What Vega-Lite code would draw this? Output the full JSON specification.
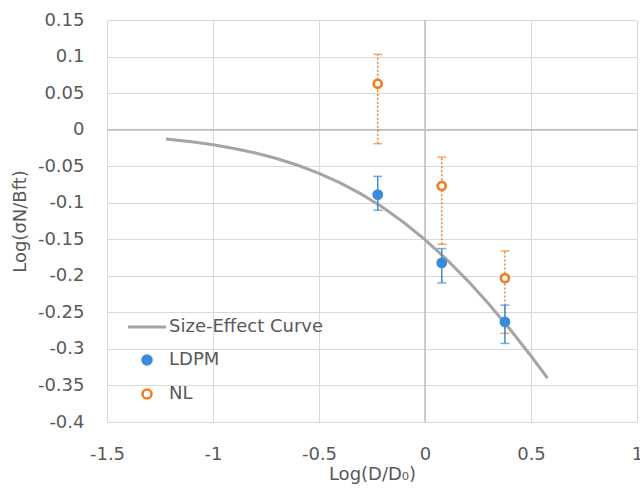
{
  "$schema": "https://vega.github.io/schema/vega-lite/v6.json",
  "autosize": {"type": "none"},
  "width": 530,
  "height": 402,
  "padding": {"left": 107, "top": 20, "right": 3, "bottom": 78},
  "background": "white",
  "config": {
    "font": "DejaVu Sans",
    "view": {"stroke": null},
    "axis": {
      "labelFont": "DejaVu Sans", "titleFont": "DejaVu Sans",
      "labelFontSize": 18, "titleFontSize": 18,
      "labelColor": "#595959", "titleColor": "#595959",
      "titleFontWeight": "normal",
      "gridColor": "#D9D9D9", "gridWidth": 1,
      "domain": false, "ticks": false, "labelOverlap": false, "labelFlush": false
    },
    "legend": {"labelFont": "DejaVu Sans", "labelFontSize": 18, "labelColor": "#595959"}
  },
  "datasets": {
    "curve": [
      {"x": -1.222, "y": -0.0127, "series": "Size-Effect Curve"},
      {"x": -1.1, "y": -0.0166, "series": "Size-Effect Curve"},
      {"x": -1.0, "y": -0.0207, "series": "Size-Effect Curve"},
      {"x": -0.9, "y": -0.0258, "series": "Size-Effect Curve"},
      {"x": -0.8, "y": -0.0319, "series": "Size-Effect Curve"},
      {"x": -0.7, "y": -0.0395, "series": "Size-Effect Curve"},
      {"x": -0.6, "y": -0.0487, "series": "Size-Effect Curve"},
      {"x": -0.5, "y": -0.0597, "series": "Size-Effect Curve"},
      {"x": -0.4, "y": -0.0728, "series": "Size-Effect Curve"},
      {"x": -0.3, "y": -0.0882, "series": "Size-Effect Curve"},
      {"x": -0.2, "y": -0.1062, "series": "Size-Effect Curve"},
      {"x": -0.1, "y": -0.127, "series": "Size-Effect Curve"},
      {"x": 0.0, "y": -0.1505, "series": "Size-Effect Curve"},
      {"x": 0.1, "y": -0.177, "series": "Size-Effect Curve"},
      {"x": 0.2, "y": -0.2062, "series": "Size-Effect Curve"},
      {"x": 0.3, "y": -0.2382, "series": "Size-Effect Curve"},
      {"x": 0.4, "y": -0.2728, "series": "Size-Effect Curve"},
      {"x": 0.5, "y": -0.3097, "series": "Size-Effect Curve"},
      {"x": 0.578, "y": -0.34, "series": "Size-Effect Curve"}
    ],
    "points": [
      {"series": "LDPM", "x": -0.223, "y": -0.0889, "lo": -0.1103, "hi": -0.0639},
      {"series": "LDPM", "x": 0.079, "y": -0.1823, "lo": -0.2097, "hi": -0.1627},
      {"series": "LDPM", "x": 0.377, "y": -0.263, "lo": -0.2925, "hi": -0.2401},
      {"series": "NL", "x": -0.223, "y": 0.0628, "lo": -0.0192, "hi": 0.1029},
      {"series": "NL", "x": 0.079, "y": -0.0771, "lo": -0.1568, "hi": -0.0375},
      {"series": "NL", "x": 0.377, "y": -0.2032, "lo": -0.2788, "hi": -0.166}
    ],
    "zero": [{"v": 0}]
  },
  "layer": [
    {
      "data": {"name": "zero"},
      "mark": {"type": "rule", "color": "#BFBFBF", "strokeWidth": 1.5},
      "encoding": {
        "x": {"field": "v", "type": "quantitative",
          "scale": {"domain": [-1.5, 1], "nice": false, "zero": false},
          "axis": {"title": "Log(D/D₀)", "tickCount": 5, "labelExpr": "'' + datum.value", "labelPadding": 23, "titlePadding": 2}}
      }
    },
    {
      "data": {"name": "zero"},
      "mark": {"type": "rule", "color": "#BFBFBF", "strokeWidth": 1.5},
      "encoding": {
        "y": {"field": "v", "type": "quantitative",
          "scale": {"domain": [-0.4, 0.15], "nice": false, "zero": false},
          "axis": {"title": "Log(σN/Bft)", "tickCount": 11, "labelExpr": "'' + datum.value", "labelPadding": 23, "titlePadding": 8}}
      }
    },
    {
      "data": {"name": "curve"},
      "mark": {"type": "line", "strokeWidth": 3},
      "encoding": {
        "x": {"field": "x", "type": "quantitative"},
        "y": {"field": "y", "type": "quantitative"},
        "stroke": {"field": "series", "type": "nominal",
          "scale": {"domain": ["Size-Effect Curve", "LDPM", "NL"], "range": ["#A5A5A5", "#3A8BD8", "#F08026"]},
          "legend": {
            "title": null, "orient": "none", "legendX": 31, "legendY": 298,
            "padding": 0, "symbolSize": 1444, "labelOffset": 13, "rowPadding": 14,
            "encode": {"symbols": {"update": {
              "shape": {"signal": "datum.value === 'Size-Effect Curve' ? 'stroke' : 'circle'"},
              "size": {"signal": "datum.value === 'Size-Effect Curve' ? 1444 : 80"},
              "strokeWidth": {"signal": "datum.value === 'Size-Effect Curve' ? 3 : 2.6"},
              "opacity": {"value": 1}
            }}}
          }}
      }
    },
    {
      "data": {"name": "points"},
      "transform": [{"filter": "datum.series === 'NL'"}],
      "mark": {"type": "rule", "color": "#F08026", "strokeWidth": 1.5, "strokeDash": [2, 2]},
      "encoding": {
        "x": {"field": "x", "type": "quantitative"},
        "y": {"field": "lo", "type": "quantitative"},
        "y2": {"field": "hi"}
      }
    },
    {
      "data": {"name": "points"},
      "transform": [{"filter": "datum.series === 'NL'"}, {"fold": ["lo", "hi"], "as": ["end", "val"]}],
      "mark": {"type": "tick", "orient": "horizontal", "color": "#F08026", "size": 9, "thickness": 1.5, "opacity": 0.7},
      "encoding": {
        "x": {"field": "x", "type": "quantitative"},
        "y": {"field": "val", "type": "quantitative"}
      }
    },
    {
      "data": {"name": "points"},
      "transform": [{"filter": "datum.series === 'LDPM'"}],
      "mark": {"type": "rule", "color": "#3A8BD8", "strokeWidth": 1.5},
      "encoding": {
        "x": {"field": "x", "type": "quantitative"},
        "y": {"field": "lo", "type": "quantitative"},
        "y2": {"field": "hi"}
      }
    },
    {
      "data": {"name": "points"},
      "transform": [{"filter": "datum.series === 'LDPM'"}, {"fold": ["lo", "hi"], "as": ["end", "val"]}],
      "mark": {"type": "tick", "orient": "horizontal", "color": "#3A8BD8", "size": 9, "thickness": 1.5},
      "encoding": {
        "x": {"field": "x", "type": "quantitative"},
        "y": {"field": "val", "type": "quantitative"}
      }
    },
    {
      "data": {"name": "points"},
      "mark": {"type": "point", "filled": true, "size": 65, "strokeWidth": 2.8, "opacity": 1},
      "encoding": {
        "x": {"field": "x", "type": "quantitative"},
        "y": {"field": "y", "type": "quantitative"},
        "stroke": {"field": "series", "type": "nominal"},
        "fill": {"field": "series", "type": "nominal",
          "scale": {"domain": ["Size-Effect Curve", "LDPM", "NL"], "range": ["transparent", "#3A8BD8", "#ffffff"]},
          "legend": {
            "title": null, "orient": "none", "legendX": 31, "legendY": 298,
            "padding": 0, "symbolSize": 1444, "labelOffset": 13, "rowPadding": 14,
            "encode": {"symbols": {"update": {
              "shape": {"signal": "datum.value === 'Size-Effect Curve' ? 'stroke' : 'circle'"},
              "size": {"signal": "datum.value === 'Size-Effect Curve' ? 1444 : 80"},
              "strokeWidth": {"signal": "datum.value === 'Size-Effect Curve' ? 3 : 2.6"},
              "opacity": {"value": 1}
            }}}
          }}
      }
    }
  ]
}
